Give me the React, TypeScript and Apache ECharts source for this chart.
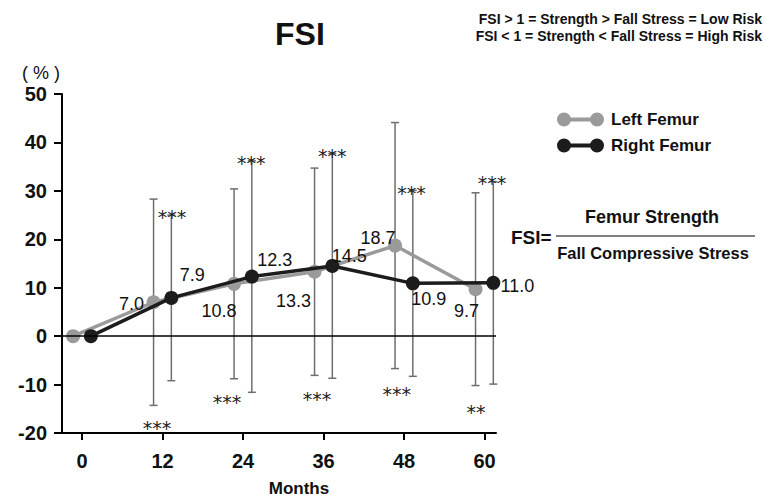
import React, { useEffect, useRef } from "react";
import * as echarts from "echarts";

// ---- data ----
const MONTHS = [0, 12, 24, 36, 48, 60];
const LEFT_FEMUR = [0, 7.0, 10.8, 13.3, 18.7, 9.7];
const RIGHT_FEMUR = [0, 7.9, 12.3, 14.5, 10.9, 11.0];
const LEFT_SD = [0, 21.3, 19.6, 21.4, 25.4, 19.9];
const RIGHT_SD = [0, 17.1, 23.9, 23.2, 19.2, 20.9];
const Y_MIN = -20;
const Y_MAX = 50;
const Y_STEP = 10;

// significance marks: [month, value, text]
const STAR_MONTH = [11.15, 21.6, 35.0, 46.9, 58.7, 13.4, 25.2, 37.3, 49.1, 61.1];
const STAR_VALUE = [-18.1, -12.8, -12.2, -11.2, -14.8, 25.5, 36.5, 38.1, 30.3, 32.4];
const STAR_TEXT = ["***", "***", "***", "***", "**", "***", "***", "***", "***", "***"];

// ---- layout / style constants ----
const LEFT_SHIFT = -1.35;
const RIGHT_SHIFT = 1.3;
const LEFT_LABEL_OFFSETS = [[0, 0], [-22, 2], [-15, 27], [-21, 29], [-17, -8], [-9, 22]];
const RIGHT_LABEL_OFFSETS = [[0, 0], [21, -23], [23, -17], [17, -10], [16, 16], [24, 3]];
const GRAY = "#9a9a9a";
const BLACK = "#1c1c1c";
const FONT = "'Liberation Sans', Arial, sans-serif";
const NARROW = "'Liberation Sans Narrow', 'Liberation Sans', sans-serif";
const DUMBBELL =
  "path://M0,7a7,7 0 1,0 14,0a7,7 0 1,0 -14,0z M33,7a7,7 0 1,0 14,0a7,7 0 1,0 -14,0z M7,5v4h33v-4z";

function errData(means: number[], sds: number[], shift: number) {
  return MONTHS.map((m, i) => [m + shift, means[i] - sds[i], means[i] + sds[i]]).filter(
    (_, i) => sds[i] > 0
  );
}

function errRender(params: any, api: any) {
  const x = api.value(0);
  const lo = api.coord([x, api.value(1)]);
  const hi = api.coord([x, api.value(2)]);
  const w = 4;
  const style = { stroke: "#6e6e6e", lineWidth: 1.5 };
  return {
    type: "group",
    children: [
      { type: "line", shape: { x1: hi[0], y1: hi[1], x2: lo[0], y2: lo[1] }, style },
      { type: "line", shape: { x1: hi[0] - w, y1: hi[1], x2: hi[0] + w, y2: hi[1] }, style },
      { type: "line", shape: { x1: lo[0] - w, y1: lo[1], x2: lo[0] + w, y2: lo[1] }, style },
    ],
  };
}

function lineData(values: number[], shift: number, offsets: number[][]) {
  return MONTHS.map((m, i) => ({
    value: [m + shift, values[i]],
    label: { show: values[i] !== 0, offset: offsets[i] },
  }));
}

export default function App() {
  const ref = useRef<HTMLDivElement>(null);
  useEffect(() => {
    if (!ref.current) return;
    const chart = echarts.init(ref.current, null, { renderer: "svg" });
    const labelCommon = {
      position: "inside",
      fontSize: 18,
      fontFamily: FONT,
      color: "#111",
      formatter: (p: any) => Number(p.value[1]).toFixed(1),
    };
    chart.setOption({
      animation: false,
      backgroundColor: "#fff",
      textStyle: { fontFamily: FONT },
      grid: { left: 62, right: 269, top: 94, bottom: 68 },
      legend: {
        orient: "vertical",
        left: 552,
        top: 106,
        itemWidth: 47,
        itemHeight: 14,
        itemGap: 9,
        textStyle: { fontSize: 17, fontWeight: "bold", color: "#111", fontFamily: FONT, padding: [0, 0, 0, 2] },
        data: [
          { name: "Left Femur", icon: DUMBBELL },
          { name: "Right Femur", icon: DUMBBELL },
        ],
      },
      xAxis: {
        type: "value",
        min: -3,
        max: 61.7,
        axisLine: { show: true, onZero: false, lineStyle: { color: "#000", width: 2 } },
        axisTick: { show: true, customValues: MONTHS, length: 7, lineStyle: { color: "#000", width: 2 } },
        axisLabel: { customValues: MONTHS, fontSize: 20, fontWeight: "bold", color: "#111", margin: 18, fontFamily: FONT },
        splitLine: { show: false },
      },
      yAxis: {
        type: "value",
        min: Y_MIN,
        max: Y_MAX,
        interval: Y_STEP,
        axisLine: { show: true, onZero: false, lineStyle: { color: "#000", width: 2 } },
        axisTick: { show: true, length: 8, lineStyle: { color: "#000", width: 2 } },
        axisLabel: { fontSize: 20, fontWeight: "bold", color: "#111", margin: 15, fontFamily: FONT },
        splitLine: { show: false },
      },
      series: [
        {
          type: "custom",
          name: "errLeft",
          data: errData(LEFT_FEMUR, LEFT_SD, LEFT_SHIFT),
          renderItem: errRender,
          z: 1,
          silent: true,
        },
        {
          type: "custom",
          name: "errRight",
          data: errData(RIGHT_FEMUR, RIGHT_SD, RIGHT_SHIFT),
          renderItem: errRender,
          z: 1,
          silent: true,
          markLine: {
            silent: true,
            symbol: "none",
            label: { show: false },
            lineStyle: { color: "#000", width: 1.5, type: "solid" },
            data: [{ yAxis: 0 }],
          },
        },
        {
          type: "line",
          name: "Left Femur",
          data: lineData(LEFT_FEMUR, LEFT_SHIFT, LEFT_LABEL_OFFSETS),
          symbol: "circle",
          symbolSize: 14,
          lineStyle: { color: GRAY, width: 3.5 },
          itemStyle: { color: GRAY },
          label: labelCommon,
          z: 3,
        },
        {
          type: "line",
          name: "Right Femur",
          data: lineData(RIGHT_FEMUR, RIGHT_SHIFT, RIGHT_LABEL_OFFSETS),
          symbol: "circle",
          symbolSize: 14,
          lineStyle: { color: BLACK, width: 3.5 },
          itemStyle: { color: BLACK },
          label: labelCommon,
          z: 4,
        },
        {
          type: "custom",
          name: "stars",
          data: STAR_MONTH.map((m, i) => [m, STAR_VALUE[i]]),
          clip: false,
          silent: true,
          z: 5,
          renderItem: (params: any, api: any) => {
            const p = api.coord([api.value(0), api.value(1)]);
            return {
              type: "text",
              x: p[0],
              y: p[1] + 4,
              style: {
                text: STAR_TEXT[params.dataIndex],
                fontSize: 19,
                fontFamily: "'DejaVu Sans', sans-serif",
                fill: "#222",
                align: "center",
                verticalAlign: "middle",
              },
            };
          },
        },
      ],
      graphic: [
        {
          type: "text",
          left: 300 - 25,
          top: 18,
          style: { text: "FSI", fontSize: 32, fontWeight: "bold", fill: "#111", fontFamily: FONT },
        },
        {
          type: "text",
          x: 762,
          y: 19,
          style: {
            text: "FSI > 1 = Strength > Fall Stress = Low Risk",
            fontSize: 14,
            fontWeight: "bold",
            fill: "#111",
            fontFamily: NARROW,
            align: "right",
            verticalAlign: "middle",
          },
        },
        {
          type: "text",
          x: 762,
          y: 36,
          style: {
            text: "FSI < 1 = Strength < Fall Stress = High Risk",
            fontSize: 14,
            fontWeight: "bold",
            fill: "#111",
            fontFamily: NARROW,
            align: "right",
            verticalAlign: "middle",
          },
        },
        {
          type: "text",
          x: 22,
          y: 73,
          style: {
            text: "( % )",
            fontSize: 18,
            fill: "#111",
            fontFamily: FONT,
            verticalAlign: "middle",
          },
        },
        {
          type: "text",
          x: 299,
          y: 488,
          style: { text: "Months", fontSize: 17, fontWeight: "bold", fill: "#111", fontFamily: FONT, align: "center", verticalAlign: "middle" },
        },
        {
          type: "text",
          x: 511,
          y: 237,
          style: { text: "FSI=", fontSize: 19, fontWeight: "bold", fill: "#111", fontFamily: NARROW, verticalAlign: "middle" },
        },
        {
          type: "text",
          x: 652,
          y: 217,
          style: { text: "Femur Strength", fontSize: 18, fontWeight: "bold", fill: "#111", fontFamily: FONT, align: "center", verticalAlign: "middle" },
        },
        {
          type: "line",
          shape: { x1: 556, y1: 236, x2: 755, y2: 236 },
          style: { stroke: "#000", lineWidth: 1.2 },
        },
        {
          type: "text",
          x: 653,
          y: 253,
          style: { text: "Fall Compressive Stress", fontSize: 16.5, fontWeight: "bold", fill: "#111", fontFamily: FONT, align: "center", verticalAlign: "middle" },
        },
      ],
    });
    return () => chart.dispose();
  }, []);
  return <div ref={ref} style={{ width: 765, height: 501, position: "absolute", left: 0, top: 0 }} />;
}
